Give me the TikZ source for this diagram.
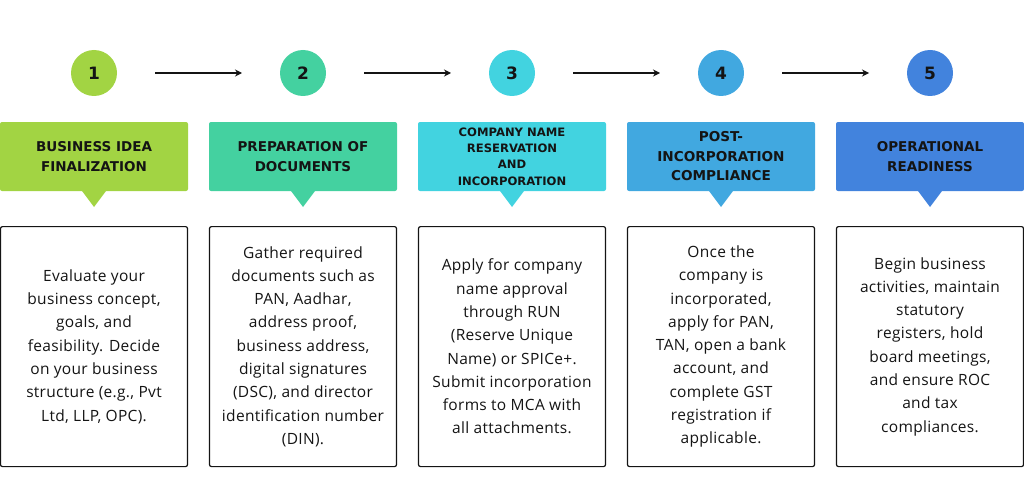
\documentclass[tikz,border=0pt]{standalone}
\usepackage{fontspec}
\setmainfont{Open Sans}
\newfontfamily\bodyfont[LetterSpace=2]{Open Sans}
\newfontfamily\headfont{DejaVu Sans}
\usetikzlibrary{shapes, arrows.meta, positioning}
\usepackage{xcolor}

\definecolor{lime}{RGB}{162,212,67}
\definecolor{mint}{RGB}{68,209,160}
\definecolor{aqua}{RGB}{66,211,224}
\definecolor{sky}{RGB}{65,168,224}
\definecolor{royal}{RGB}{66,131,221}
\definecolor{ink}{RGB}{20,20,20}

\tikzset{
  numdot/.style={circle, minimum size=46pt, inner sep=0pt, outer sep=0pt, text=ink,
    font=\headfont\bfseries\fontsize{17}{20}\selectfont},
  headbox/.style={rectangle, rounded corners=2pt, minimum width=188pt,
    minimum height=69pt, inner sep=2pt, outer sep=0pt, align=center, text=ink,
    font=\headfont\bfseries\fontsize{13.5}{20}\selectfont},
  textbox/.style={draw=ink, line width=1.2pt, rounded corners=2pt,
    minimum width=187pt, minimum height=240pt, inner sep=2pt, align=center,
    text=ink, font=\bodyfont\fontsize{15.5}{23.3}\selectfont},
  flow/.style={-{Stealth[length=7pt,width=7pt]}, line width=1.3pt, draw=ink,
    shorten <=38pt, shorten >=38pt}
}

\begin{document}
\begin{tikzpicture}[x=1pt, y=-1pt, thick]
\useasboundingbox (0,0) rectangle (1024,500);

% header boxes
\node [headbox, fill=lime] (h1) at (94,156.5) {BUSINESS IDEA\\FINALIZATION};
\node [headbox, fill=mint, right=21pt of h1] (h2) {PREPARATION OF\\DOCUMENTS};
\node [headbox, fill=aqua, right=21pt of h2, font=\headfont\bfseries\fontsize{11.6}{16.3}\selectfont] (h3)
  {COMPANY NAME\\RESERVATION\\AND\\INCORPORATION};
\node [headbox, fill=sky, right=21pt of h3, font=\headfont\bfseries\fontsize{13.6}{19.5}\selectfont] (h4)
  {POST-\\INCORPORATION\\COMPLIANCE};
\node [headbox, fill=royal, right=21pt of h4] (h5) {OPERATIONAL\\READINESS};

% pointers
\fill [lime] ([xshift=-12pt]h1.south) -- ([xshift=12pt]h1.south) -- ([yshift=-16pt]h1.south) -- cycle;
\fill [mint] ([xshift=-12pt]h2.south) -- ([xshift=12pt]h2.south) -- ([yshift=-16pt]h2.south) -- cycle;
\fill [aqua] ([xshift=-12pt]h3.south) -- ([xshift=12pt]h3.south) -- ([yshift=-16pt]h3.south) -- cycle;
\fill [sky] ([xshift=-12pt]h4.south) -- ([xshift=12pt]h4.south) -- ([yshift=-16pt]h4.south) -- cycle;
\fill [royal] ([xshift=-12pt]h5.south) -- ([xshift=12pt]h5.south) -- ([yshift=-16pt]h5.south) -- cycle;

% step numbers
\node [numdot, fill=lime, above=26pt of h1] (c1) {1};
\node [numdot, fill=mint, above=26pt of h2] (c2) {2};
\node [numdot, fill=aqua, above=26pt of h3] (c3) {3};
\node [numdot, fill=sky, above=26pt of h4] (c4) {4};
\node [numdot, fill=royal, above=26pt of h5] (c5) {5};

\draw [flow] (c1) -- (c2);
\draw [flow] (c2) -- (c3);
\draw [flow] (c3) -- (c4);
\draw [flow] (c4) -- (c5);

% descriptions
\node [textbox, below=35pt of h1] (b1) {Evaluate your\\business concept,\\goals, and\\feasibility. Decide\\on your business\\structure (e.g., Pvt\\Ltd, LLP, OPC).};
\node [textbox, below=35pt of h2] (b2) {Gather required\\documents such as\\PAN, Aadhar,\\address proof,\\business address,\\digital signatures\\(DSC), and director\\identification number\\(DIN).};
\node [textbox, below=35pt of h3] (b3) {Apply for company\\name approval\\through RUN\\(Reserve Unique\\Name) or SPICe+.\\Submit incorporation\\forms to MCA with\\all attachments.};
\node [textbox, below=35pt of h4] (b4) {Once the\\company is\\incorporated,\\apply for PAN,\\TAN, open a bank\\account, and\\complete GST\\registration if\\applicable.};
\node [textbox, below=35pt of h5] (b5) {Begin business\\activities, maintain\\statutory\\registers, hold\\board meetings,\\and ensure ROC\\and tax\\compliances.};

\end{tikzpicture}
\end{document}
